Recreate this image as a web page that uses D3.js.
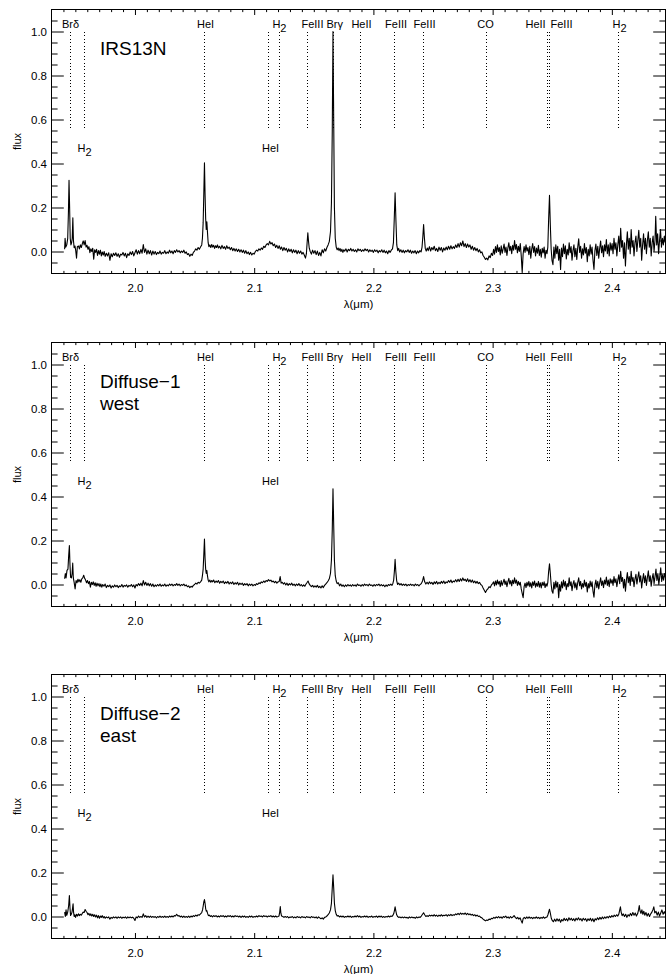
<!DOCTYPE html>
<html><head><meta charset="utf-8">
<script src="https://cdn.jsdelivr.net/npm/d3@7"></script>
<style>
body{margin:0;background:#fff}
svg{display:block}
text{font-family:"Liberation Sans",Arial,Helvetica,sans-serif;fill:#000}
</style>
</head><body>
<svg id="chart" width="667" height="974"></svg>
<script>
// ---------------- DATA ----------------
const X_DOMAIN = [1.93, 2.445];
const Y_DOMAIN = [-0.1, 1.1];
const X_MAJOR = [2.0, 2.1, 2.2, 2.3, 2.4];
const Y_MAJOR = [0.0, 0.2, 0.4, 0.6, 0.8, 1.0];

const PANEL_TITLES = [["IRS13N"], ["Diffuse\u22121", "west"], ["Diffuse\u22122", "east"]];

// marker lines (wavelength, micron)
const LINE_WL = [1.9451, 1.9571, 2.0580, 2.1118, 2.1207, 2.1447, 2.1660, 2.1886, 2.2171, 2.2412, 2.2943, 2.3452, 2.3469, 2.4050];
const TOP_LABEL_NAMES = ["Br\u03b4", "HeI", "H2", "FeIII", "Br\u03b3", "HeII", "FeIII", "FeIII", "CO", "HeII", "FeIII", "H2"];
const TOP_LABEL_WL = [1.9459, 2.0592, 2.1212, 2.1489, 2.1676, 2.1900, 2.2190, 2.2429, 2.2940, 2.3360, 2.3578, 2.4064];
const BOTTOM_LABEL_NAMES = ["H2", "HeI"];
const BOTTOM_LABEL_WL = [1.9577, 2.1137];

// spectra: [wavelength, flux]
const SPEC_IRS13N = [
[1.9410,0.010],[1.9414,0.060],[1.9420,0.020],[1.9428,0.030],[1.9436,0.060],[1.9442,0.180],[1.9447,0.324],[1.9452,0.200],[1.9457,0.060],[1.9463,0.030],[1.9469,0.040],[1.9474,0.060],[1.9479,0.153],[1.9484,0.050],[1.9490,0.017],[1.9497,0.025],[1.9503,0.005],[1.9510,-0.030],[1.9517,0.022],
[1.9526,0.025],[1.9534,0.012],[1.9542,0.030],[1.9550,0.018],[1.9558,0.035],[1.9566,0.048],[1.9574,0.030],[1.9582,0.050],[1.9590,0.020],[1.9598,0.028],[1.9606,0.010],[1.9614,0.022],[1.9622,-0.005],[1.9630,0.012],[1.9638,0.000],[1.9646,0.015],[1.9654,-0.035],[1.9662,0.008],[1.9670,-0.004],[1.9678,0.010],[1.9686,-0.018],[1.9694,0.004],[1.9702,-0.012],[1.9710,0.006],[1.9718,-0.020],[1.9726,-0.002],[1.9734,-0.016],[1.9742,0.000],[1.9750,-0.022],[1.9760,-0.008],[1.9770,-0.020],[1.9780,-0.006],[1.9790,-0.040],[1.9800,-0.010],[1.9810,-0.024],[1.9820,-0.008],[1.9830,-0.018],[1.9840,-0.006],[1.9850,-0.022],[1.9860,-0.010],[1.9870,-0.026],[1.9880,-0.012],[1.9890,-0.016],[1.9900,-0.004],[1.9910,-0.020],[1.9920,-0.008],[1.9930,-0.028],[1.9940,-0.010],[1.9950,-0.018],[1.9960,-0.002],[1.9970,-0.014],[1.9980,0.000],[1.9990,-0.020],
[2.0000,-0.006],[2.0010,0.008],[2.0020,-0.012],[2.0030,0.004],[2.0040,-0.010],[2.0050,0.010],[2.0060,-0.008],[2.0070,0.032],[2.0080,-0.004],[2.0090,0.012],[2.0100,-0.012],[2.0110,0.006],[2.0120,-0.010],[2.0130,0.004],[2.0140,-0.016],[2.0150,0.002],[2.0160,-0.012],[2.0170,0.000],[2.0180,-0.014],[2.0190,-0.004],[2.0200,-0.010],[2.0210,0.002],[2.0220,-0.012],[2.0230,-0.004],[2.0240,-0.008],[2.0250,0.004],[2.0260,-0.010],[2.0270,-0.002],[2.0280,-0.008],[2.0290,0.006],[2.0300,-0.006],[2.0310,0.002],[2.0320,-0.010],[2.0330,0.004],[2.0340,-0.004],[2.0350,0.008],[2.0360,-0.002],[2.0370,0.004],[2.0380,-0.006],[2.0390,0.002],[2.0400,-0.004],[2.0410,0.006],[2.0420,-0.008],[2.0430,-0.002],[2.0440,-0.014],[2.0450,-0.010],[2.0460,-0.022],[2.0470,-0.012],[2.0480,-0.018],[2.0490,-0.004],[2.0500,0.002],[2.0510,0.012],[2.0520,0.006],[2.0530,0.018],[2.0540,0.010],[2.0550,0.020],[2.0560,0.030],[2.0566,0.060],[2.0572,0.130],[2.0577,0.250],[2.0583,0.403],[2.0588,0.260],[2.0593,0.150],[2.0598,0.100],[2.0603,0.135],[2.0608,0.090],[2.0614,0.040],[2.0620,0.022],[2.0628,0.030],
[2.0636,0.018],[2.0644,0.032],[2.0652,0.020],[2.0660,0.028],[2.0668,0.014],[2.0676,0.026],[2.0684,0.018],[2.0692,0.030],[2.0700,0.016],[2.0710,0.024],[2.0720,0.012],[2.0730,0.028],[2.0740,0.014],[2.0750,0.022],[2.0760,0.010],[2.0770,0.026],[2.0780,0.014],[2.0790,0.020],[2.0800,0.008],[2.0810,0.018],[2.0820,0.004],[2.0830,0.014],[2.0840,0.002],[2.0850,0.012],[2.0860,0.000],[2.0870,0.010],[2.0880,-0.002],[2.0890,0.008],[2.0900,-0.004],[2.0910,0.006],[2.0920,-0.008],[2.0930,0.004],[2.0940,-0.010],[2.0950,-0.002],[2.0960,-0.014],[2.0970,-0.004],[2.0980,-0.016],[2.0990,-0.008],[2.1000,-0.012],[2.1010,0.000],[2.1020,0.006],[2.1030,0.002],[2.1040,0.012],[2.1050,0.006],[2.1060,0.016],[2.1070,0.010],[2.1080,0.024],[2.1090,0.018],[2.1100,0.030],[2.1110,0.036],[2.1120,0.030],[2.1130,0.046],[2.1140,0.034],[2.1150,0.040],[2.1160,0.026],[2.1170,0.034],[2.1180,0.018],[2.1190,0.028],[2.1200,0.014],[2.1210,0.026],[2.1220,0.010],[2.1230,0.020],[2.1240,0.004],[2.1250,0.018],[2.1260,0.006],[2.1270,0.014],[2.1280,-0.002],[2.1290,0.012],[2.1300,0.000],[2.1310,0.010],[2.1320,-0.006],[2.1330,0.008],[2.1340,-0.004],[2.1350,0.006],[2.1360,-0.010],[2.1370,0.004],[2.1380,-0.008],[2.1390,0.002],[2.1400,-0.012],[2.1410,-0.004],[2.1420,-0.016],[2.1430,-0.030],[2.1438,-0.010],[2.1444,0.040],[2.1450,0.085],[2.1456,0.045],[2.1462,0.015],[2.1470,0.000],[2.1480,-0.012],[2.1490,0.006],[2.1500,-0.008],[2.1510,0.004],[2.1520,-0.014],[2.1530,0.002],[2.1540,-0.018],[2.1550,-0.004],[2.1560,-0.020],[2.1570,0.008],[2.1580,-0.006],[2.1590,0.012],[2.1600,0.002],[2.1610,0.018],[2.1620,0.030],[2.1630,0.045],[2.1640,0.090],[2.1648,0.220],[2.1655,0.550],[2.1661,1.000],[2.1667,0.600],[2.1673,0.200],[2.1680,0.060],[2.1688,0.020],[2.1696,0.008],[2.1704,0.016],
[2.1712,0.004],[2.1720,0.014],[2.1728,0.000],[2.1736,0.010],[2.1744,-0.004],[2.1752,0.008],[2.1760,0.002],[2.1770,0.012],[2.1780,-0.002],[2.1790,0.010],[2.1800,0.004],[2.1810,0.014],[2.1820,0.002],[2.1830,0.010],[2.1840,0.000],[2.1850,0.008],[2.1860,-0.002],[2.1870,0.012],[2.1880,0.004],[2.1890,0.010],[2.1900,0.000],[2.1910,0.008],[2.1920,0.002],[2.1930,0.012],[2.1940,0.004],[2.1950,0.010],[2.1960,-0.002],[2.1970,0.008],[2.1980,0.000],[2.1990,0.006],[2.2000,-0.004],[2.2010,0.008],[2.2020,0.000],[2.2030,0.006],[2.2040,-0.006],[2.2050,0.004],[2.2060,-0.002],[2.2070,0.008],[2.2080,-0.004],[2.2090,0.006],[2.2100,-0.006],[2.2110,0.002],[2.2120,-0.010],[2.2130,0.004],[2.2140,-0.004],[2.2150,0.006],[2.2160,0.012],[2.2168,0.040],[2.2175,0.150],[2.2182,0.267],[2.2189,0.140],[2.2196,0.030],[2.2204,0.004],[2.2212,0.014],[2.2220,-0.002],[2.2230,0.008],[2.2240,-0.004],[2.2250,0.006],[2.2260,-0.006],[2.2270,0.004],[2.2280,-0.002],[2.2290,0.008],[2.2300,-0.004],[2.2310,0.006],[2.2320,-0.008],[2.2330,0.002],[2.2340,-0.006],[2.2350,0.004],[2.2360,-0.010],[2.2370,0.002],[2.2380,-0.006],[2.2390,0.004],[2.2400,-0.002],[2.2408,0.020],[2.2415,0.070],[2.2421,0.123],[2.2428,0.060],[2.2435,0.014],[2.2443,0.002],
[2.2452,0.016],[2.2460,0.004],[2.2470,0.022],[2.2480,0.002],[2.2490,0.018],[2.2500,0.008],[2.2510,0.024],[2.2520,0.004],[2.2530,0.014],[2.2540,0.000],[2.2550,0.020],[2.2560,0.006],[2.2570,0.018],[2.2580,-0.002],[2.2590,0.016],[2.2600,0.006],[2.2610,0.020],[2.2620,0.008],[2.2630,0.024],[2.2640,0.010],[2.2650,0.026],[2.2660,0.012],[2.2670,0.022],[2.2680,0.014],[2.2690,0.030],[2.2700,0.018],[2.2710,0.036],[2.2720,0.020],[2.2730,0.040],[2.2740,0.026],[2.2750,0.048],[2.2760,0.022],[2.2770,0.036],[2.2780,0.018],[2.2790,0.034],[2.2800,0.020],[2.2810,0.030],[2.2820,0.010],[2.2830,0.024],[2.2840,0.006],[2.2850,0.018],[2.2860,0.004],[2.2870,0.014],[2.2880,-0.002],[2.2890,0.008],[2.2900,-0.006],[2.2910,-0.002],[2.2920,-0.018],[2.2930,-0.026],[2.2940,-0.036],[2.2950,-0.030],[2.2960,-0.038],[2.2970,-0.020],[2.2980,-0.028],[2.2990,-0.008],[2.3000,-0.018],
[2.3008,0.010],[2.3016,-0.012],[2.3024,0.022],[2.3032,-0.004],[2.3040,0.030],[2.3048,0.000],[2.3056,0.018],[2.3064,-0.016],[2.3072,0.026],[2.3080,-0.008],[2.3088,0.012],[2.3096,0.034],[2.3104,-0.004],[2.3112,0.020],[2.3120,-0.018],[2.3128,0.016],[2.3136,0.040],[2.3144,0.004],[2.3152,0.024],[2.3160,-0.010],[2.3168,0.028],[2.3176,0.006],[2.3184,0.050],[2.3192,0.010],[2.3200,0.032],[2.3208,-0.006],[2.3216,0.024],[2.3224,0.000],[2.3232,0.036],[2.3240,-0.020],[2.3248,-0.095],[2.3256,-0.010],[2.3264,0.022],[2.3272,-0.004],[2.3280,0.030],[2.3288,0.002],[2.3296,0.018],[2.3304,-0.014],[2.3312,0.024],[2.3320,-0.030],[2.3328,0.012],[2.3336,0.036],[2.3344,-0.004],[2.3352,0.022],[2.3360,-0.020],[2.3368,0.016],[2.3376,-0.008],[2.3384,0.028],[2.3392,-0.018],[2.3400,0.010],[2.3408,-0.026],[2.3416,0.014],[2.3424,-0.006],[2.3432,0.020],[2.3440,-0.030],[2.3448,0.006],[2.3456,-0.010],[2.3463,0.020],[2.3470,0.150],[2.3477,0.255],[2.3484,0.120],[2.3491,0.010],[2.3498,-0.040],
[2.3506,-0.060],[2.3514,0.020],[2.3522,-0.030],[2.3530,0.030],[2.3538,-0.010],[2.3546,0.024],[2.3554,-0.040],[2.3562,0.010],[2.3570,-0.082],[2.3578,0.016],[2.3586,-0.024],[2.3594,0.034],[2.3602,-0.010],[2.3610,0.026],[2.3618,-0.034],[2.3626,0.010],[2.3634,-0.016],[2.3642,0.040],[2.3650,-0.006],[2.3658,0.022],[2.3666,-0.040],[2.3674,0.004],[2.3682,0.030],[2.3690,-0.024],[2.3698,0.014],[2.3706,-0.036],[2.3714,0.020],[2.3722,0.058],[2.3730,-0.004],[2.3738,0.024],[2.3746,-0.030],[2.3754,0.012],[2.3762,-0.016],[2.3770,0.036],[2.3778,-0.008],[2.3786,0.018],[2.3794,-0.046],[2.3802,0.010],[2.3810,-0.020],[2.3818,0.030],[2.3826,-0.012],[2.3834,0.020],[2.3842,-0.040],[2.3850,-0.082],[2.3858,0.004],[2.3866,0.034],[2.3874,-0.018],[2.3882,0.024],[2.3890,-0.030],[2.3898,0.014],[2.3906,0.048],[2.3914,-0.006],[2.3922,0.026],[2.3930,-0.024],[2.3938,0.030],[2.3946,0.002],[2.3954,0.054],[2.3962,-0.010],[2.3970,0.030],[2.3978,-0.020],[2.3986,0.040],[2.3994,0.006],
[2.4002,0.036],[2.4010,-0.010],[2.4018,0.060],[2.4026,0.010],[2.4034,0.040],[2.4042,-0.020],[2.4050,0.030],[2.4058,0.070],[2.4066,0.000],[2.4074,0.106],[2.4082,0.020],[2.4090,0.050],[2.4098,-0.030],[2.4106,0.040],[2.4114,-0.066],[2.4122,0.030],[2.4130,0.090],[2.4138,0.010],[2.4146,0.060],[2.4154,-0.010],[2.4162,0.100],[2.4170,0.020],[2.4178,0.050],[2.4186,-0.020],[2.4194,0.040],[2.4202,0.070],[2.4210,0.000],[2.4218,0.050],[2.4226,0.096],[2.4234,0.020],[2.4242,0.060],[2.4250,-0.040],[2.4258,0.030],[2.4266,0.080],[2.4274,0.010],[2.4282,0.060],[2.4290,-0.010],[2.4298,0.050],[2.4306,0.090],[2.4314,0.020],[2.4322,0.060],[2.4330,-0.020],[2.4338,0.040],[2.4346,0.070],[2.4354,0.000],[2.4362,0.050],[2.4368,0.160],[2.4376,0.030],[2.4384,0.080],[2.4392,-0.010],[2.4400,0.050],[2.4408,0.100],[2.4416,0.020],[2.4424,0.060],[2.4432,0.030],[2.4440,0.070],[2.4448,0.040]
];

const SPEC_DIFFUSE1 = [
[1.9410,0.026],[1.9416,0.050],[1.9422,0.030],[1.9430,0.064],[1.9438,0.070],[1.9444,0.130],[1.9450,0.177],[1.9455,0.090],[1.9460,0.033],[1.9467,0.030],[1.9473,0.050],[1.9478,0.097],[1.9483,0.030],[1.9490,0.010],[1.9498,-0.020],[1.9506,0.018],[1.9514,0.008],[1.9522,0.024],[1.9530,0.012],[1.9538,0.022],[1.9546,0.010],[1.9554,0.026],[1.9562,0.030],[1.9570,0.042],[1.9578,0.028],[1.9586,0.020],[1.9594,0.008],[1.9602,0.018],[1.9610,0.004],[1.9618,0.014],[1.9626,-0.012],[1.9634,0.010],[1.9642,0.000],[1.9650,0.012],[1.9658,-0.004],[1.9666,0.008],[1.9674,-0.008],[1.9682,0.006],[1.9690,-0.006],[1.9698,0.004],[1.9706,-0.010],[1.9714,0.002],[1.9722,-0.012],[1.9730,0.000],[1.9740,-0.008],[1.9750,0.002],[1.9760,-0.014],[1.9770,-0.004],[1.9780,-0.010],[1.9790,-0.002],[1.9800,-0.016],[1.9810,-0.006],[1.9820,-0.012],[1.9830,-0.002],[1.9840,-0.010],[1.9850,-0.004],[1.9860,-0.014],[1.9870,-0.006],[1.9880,-0.010],[1.9890,0.000],[1.9900,-0.012],[1.9910,-0.004],[1.9920,-0.008],[1.9930,-0.002],[1.9940,-0.012],[1.9950,-0.004],[1.9960,-0.008],[1.9970,0.000],[1.9980,-0.010],[1.9990,-0.002],
[2.0000,-0.016],[2.0010,0.000],[2.0020,-0.006],[2.0030,0.004],[2.0040,-0.004],[2.0050,0.006],[2.0060,-0.006],[2.0070,0.018],[2.0080,-0.002],[2.0090,0.010],[2.0100,-0.004],[2.0110,0.006],[2.0120,-0.006],[2.0130,0.004],[2.0140,-0.008],[2.0150,0.002],[2.0160,-0.010],[2.0170,-0.002],[2.0180,-0.008],[2.0190,0.000],[2.0200,-0.006],[2.0210,0.002],[2.0220,-0.008],[2.0230,-0.002],[2.0240,-0.006],[2.0250,0.002],[2.0260,-0.008],[2.0270,-0.002],[2.0280,-0.006],[2.0290,0.002],[2.0300,-0.004],[2.0310,0.002],[2.0320,-0.006],[2.0330,0.000],[2.0340,-0.004],[2.0350,0.004],[2.0360,-0.004],[2.0370,0.002],[2.0380,-0.006],[2.0390,0.000],[2.0400,-0.004],[2.0410,0.002],[2.0420,-0.006],[2.0430,-0.002],[2.0440,-0.010],[2.0450,-0.006],[2.0460,-0.014],[2.0470,-0.008],[2.0480,-0.012],[2.0490,-0.004],[2.0500,0.000],[2.0510,0.006],[2.0520,0.002],[2.0530,0.010],[2.0540,0.006],[2.0550,0.012],[2.0560,0.020],[2.0566,0.040],[2.0572,0.070],[2.0577,0.130],[2.0583,0.207],[2.0588,0.120],[2.0593,0.070],[2.0598,0.050],[2.0603,0.064],[2.0608,0.040],[2.0614,0.020],[2.0620,0.012],
[2.0628,0.020],[2.0636,0.010],[2.0644,0.018],[2.0652,0.012],[2.0660,0.020],[2.0670,0.008],[2.0680,0.016],[2.0690,0.010],[2.0700,0.018],[2.0710,0.006],[2.0720,0.014],[2.0730,0.008],[2.0740,0.016],[2.0750,0.004],[2.0760,0.012],[2.0770,0.006],[2.0780,0.014],[2.0790,0.002],[2.0800,0.010],[2.0810,0.004],[2.0820,0.012],[2.0830,0.000],[2.0840,0.008],[2.0850,0.002],[2.0860,0.010],[2.0870,-0.002],[2.0880,0.006],[2.0890,0.000],[2.0900,0.006],[2.0910,-0.004],[2.0920,0.004],[2.0930,-0.002],[2.0940,0.004],[2.0950,-0.006],[2.0960,0.002],[2.0970,-0.004],[2.0980,0.002],[2.0990,-0.006],[2.1000,0.000],[2.1010,-0.004],[2.1020,0.004],[2.1030,0.000],[2.1040,0.008],[2.1050,0.004],[2.1060,0.012],[2.1070,0.008],[2.1080,0.016],[2.1090,0.010],[2.1100,0.018],[2.1110,0.014],[2.1120,0.022],[2.1130,0.016],[2.1140,0.020],[2.1150,0.012],[2.1160,0.016],[2.1170,0.008],[2.1180,0.014],[2.1190,0.006],[2.1200,0.012],[2.1210,0.014],[2.1218,0.036],[2.1226,0.006],[2.1235,0.010],[2.1245,0.002],[2.1255,0.008],[2.1265,-0.002],[2.1275,0.006],[2.1285,-0.004],[2.1295,0.004],[2.1305,-0.002],[2.1315,0.006],[2.1325,-0.004],[2.1335,0.002],[2.1345,-0.006],[2.1355,0.002],[2.1365,-0.004],[2.1375,0.004],[2.1385,-0.006],[2.1395,0.000],[2.1405,-0.008],[2.1415,-0.002],[2.1425,-0.008],[2.1435,0.002],[2.1445,0.010],[2.1452,0.016],[2.1460,0.004],[2.1470,-0.004],[2.1480,-0.010],[2.1490,-0.004],[2.1500,-0.012],[2.1510,-0.006],[2.1520,-0.012],[2.1530,-0.004],[2.1540,-0.014],[2.1550,-0.008],[2.1560,-0.016],[2.1570,-0.006],[2.1580,-0.014],[2.1590,-0.004],[2.1600,0.002],[2.1610,0.008],[2.1620,0.016],[2.1630,0.026],[2.1640,0.050],[2.1648,0.110],[2.1655,0.250],[2.1661,0.435],[2.1667,0.270],[2.1673,0.110],[2.1680,0.040],[2.1688,0.016],[2.1696,0.004],[2.1706,0.008],
[2.1716,-0.006],[2.1726,0.002],[2.1736,-0.008],[2.1746,-0.002],[2.1756,-0.010],[2.1766,-0.002],[2.1776,-0.008],[2.1786,0.000],[2.1796,-0.006],[2.1806,-0.002],[2.1816,-0.008],[2.1826,0.000],[2.1836,-0.006],[2.1846,-0.002],[2.1856,-0.008],[2.1866,0.002],[2.1876,-0.004],[2.1886,-0.002],[2.1896,-0.008],[2.1906,0.000],[2.1916,-0.006],[2.1926,0.002],[2.1936,-0.004],[2.1946,0.000],[2.1956,-0.006],[2.1966,0.002],[2.1976,-0.004],[2.1986,-0.002],[2.1996,-0.008],[2.2006,0.000],[2.2016,-0.006],[2.2026,0.000],[2.2036,-0.004],[2.2046,0.002],[2.2056,-0.006],[2.2066,0.000],[2.2076,-0.006],[2.2086,-0.002],[2.2096,-0.010],[2.2106,-0.002],[2.2116,-0.008],[2.2126,0.000],[2.2136,-0.004],[2.2146,0.002],[2.2156,-0.004],[2.2164,0.006],[2.2170,0.020],[2.2176,0.060],[2.2182,0.114],[2.2188,0.060],[2.2195,0.018],[2.2203,0.000],[2.2212,0.006],[2.2222,-0.002],[2.2232,0.004],[2.2242,-0.004],[2.2252,0.002],[2.2262,-0.004],[2.2272,0.002],[2.2282,-0.006],[2.2292,0.000],[2.2302,-0.004],[2.2312,0.002],[2.2322,-0.004],[2.2332,0.000],[2.2342,-0.006],[2.2352,0.002],[2.2362,-0.004],[2.2372,0.000],[2.2382,-0.006],[2.2392,0.000],[2.2402,0.004],[2.2412,0.016],[2.2421,0.036],[2.2430,0.012],[2.2440,0.002],
[2.2450,0.010],[2.2460,0.002],[2.2470,0.012],[2.2480,0.004],[2.2490,0.010],[2.2500,0.000],[2.2510,0.012],[2.2520,0.004],[2.2530,0.014],[2.2540,0.002],[2.2550,0.010],[2.2560,0.004],[2.2570,0.014],[2.2580,0.006],[2.2590,0.016],[2.2600,0.004],[2.2610,0.012],[2.2620,0.008],[2.2630,0.018],[2.2640,0.010],[2.2650,0.020],[2.2660,0.008],[2.2670,0.016],[2.2680,0.012],[2.2690,0.022],[2.2700,0.012],[2.2710,0.024],[2.2720,0.014],[2.2730,0.026],[2.2740,0.016],[2.2750,0.030],[2.2760,0.018],[2.2770,0.024],[2.2780,0.014],[2.2790,0.026],[2.2800,0.012],[2.2810,0.022],[2.2820,0.010],[2.2830,0.020],[2.2840,0.008],[2.2850,0.016],[2.2860,0.006],[2.2870,0.014],[2.2880,0.004],[2.2890,0.010],[2.2900,0.000],[2.2910,-0.004],[2.2920,-0.016],[2.2930,-0.026],[2.2940,-0.036],[2.2950,-0.026],[2.2960,-0.020],[2.2970,-0.010],[2.2980,-0.014],[2.2990,-0.002],[2.3000,0.004],
[2.3008,0.012],[2.3016,-0.006],[2.3024,0.016],[2.3032,-0.002],[2.3040,0.020],[2.3048,0.002],[2.3056,0.014],[2.3064,-0.010],[2.3072,0.018],[2.3080,-0.004],[2.3088,0.010],[2.3096,0.024],[2.3104,0.000],[2.3112,0.016],[2.3120,-0.010],[2.3128,0.012],[2.3136,0.028],[2.3144,0.002],[2.3152,0.018],[2.3160,-0.006],[2.3168,0.020],[2.3176,0.004],[2.3184,0.030],[2.3192,0.006],[2.3200,0.020],[2.3208,-0.004],[2.3216,0.014],[2.3224,-0.002],[2.3232,0.010],[2.3240,-0.020],[2.3248,-0.040],[2.3256,-0.060],[2.3264,-0.010],[2.3272,0.006],[2.3280,-0.014],[2.3288,0.010],[2.3296,-0.006],[2.3304,0.014],[2.3312,-0.010],[2.3320,0.008],[2.3328,-0.016],[2.3336,0.012],[2.3344,-0.004],[2.3352,0.016],[2.3360,-0.012],[2.3368,0.006],[2.3376,-0.008],[2.3384,0.014],[2.3392,-0.012],[2.3400,0.008],[2.3408,-0.016],[2.3416,0.010],[2.3424,-0.004],[2.3432,0.012],[2.3440,-0.014],[2.3448,0.004],[2.3456,-0.008],[2.3463,0.010],[2.3470,0.060],[2.3477,0.094],[2.3484,0.050],[2.3491,0.000],[2.3498,-0.030],
[2.3506,-0.040],[2.3514,0.010],[2.3522,-0.020],[2.3530,0.016],[2.3538,-0.012],[2.3546,0.010],[2.3554,-0.060],[2.3562,0.000],[2.3570,-0.030],[2.3578,0.012],[2.3586,-0.016],[2.3594,0.020],[2.3602,-0.008],[2.3610,0.014],[2.3618,-0.024],[2.3626,0.004],[2.3634,-0.010],[2.3642,0.030],[2.3650,-0.006],[2.3658,0.012],[2.3666,-0.028],[2.3674,0.002],[2.3682,0.018],[2.3690,-0.016],[2.3698,0.008],[2.3706,-0.024],[2.3714,0.010],[2.3722,0.030],[2.3730,-0.006],[2.3738,0.014],[2.3746,-0.020],[2.3754,0.004],[2.3762,-0.012],[2.3770,0.020],[2.3778,-0.008],[2.3786,0.010],[2.3794,-0.034],[2.3802,0.004],[2.3810,-0.016],[2.3818,0.016],[2.3826,-0.010],[2.3834,0.012],[2.3842,-0.030],[2.3850,-0.058],[2.3858,-0.002],[2.3866,0.020],[2.3874,-0.014],[2.3882,0.014],[2.3890,-0.020],[2.3898,0.008],[2.3906,0.030],[2.3914,-0.004],[2.3922,0.016],[2.3930,-0.014],[2.3938,0.020],[2.3946,0.002],[2.3954,0.034],[2.3962,-0.004],[2.3970,0.020],[2.3978,-0.010],[2.3986,0.026],[2.3994,0.006],
[2.4002,0.022],[2.4010,-0.004],[2.4018,0.036],[2.4026,0.008],[2.4034,0.026],[2.4042,-0.010],[2.4050,0.020],[2.4058,0.044],[2.4066,0.004],[2.4074,0.060],[2.4082,0.014],[2.4090,0.032],[2.4098,-0.016],[2.4106,0.024],[2.4114,-0.030],[2.4122,0.020],[2.4130,0.054],[2.4138,0.008],[2.4146,0.036],[2.4154,-0.004],[2.4162,0.060],[2.4170,0.014],[2.4178,0.032],[2.4186,-0.010],[2.4194,0.026],[2.4202,0.046],[2.4210,0.002],[2.4218,0.032],[2.4226,0.058],[2.4234,0.012],[2.4242,0.040],[2.4250,-0.016],[2.4258,0.022],[2.4266,0.050],[2.4274,0.008],[2.4282,0.040],[2.4290,-0.004],[2.4298,0.032],[2.4306,0.062],[2.4314,0.014],[2.4322,0.040],[2.4330,-0.008],[2.4338,0.028],[2.4346,0.050],[2.4354,0.004],[2.4362,0.036],[2.4370,0.070],[2.4378,0.018],[2.4386,0.050],[2.4394,0.000],[2.4402,0.036],[2.4410,0.076],[2.4418,0.014],[2.4426,0.044],[2.4434,0.020],[2.4442,0.050],[2.4450,0.030]
];

const SPEC_DIFFUSE2 = [
[1.9410,0.020],[1.9416,0.000],[1.9422,0.030],[1.9428,0.005],[1.9436,0.020],[1.9444,0.050],[1.9450,0.095],[1.9455,0.040],[1.9460,0.005],[1.9466,0.010],[1.9472,0.020],[1.9477,0.040],[1.9481,0.058],[1.9485,0.020],[1.9490,0.000],[1.9496,0.008],[1.9502,-0.004],[1.9510,0.010],[1.9518,0.002],[1.9526,0.012],[1.9534,0.004],[1.9542,0.010],[1.9550,0.006],[1.9558,0.014],[1.9566,0.020],[1.9574,0.018],[1.9582,0.032],[1.9590,0.024],[1.9598,0.018],[1.9606,0.008],[1.9614,0.014],[1.9622,0.004],[1.9630,0.012],[1.9638,0.002],[1.9646,0.010],[1.9654,0.000],[1.9662,0.008],[1.9670,-0.002],[1.9678,0.006],[1.9686,-0.006],[1.9694,0.004],[1.9702,-0.008],[1.9710,0.002],[1.9718,-0.004],[1.9726,0.004],[1.9734,-0.006],[1.9742,0.000],[1.9750,-0.008],[1.9760,-0.002],[1.9770,-0.006],[1.9780,-0.002],[1.9790,-0.012],[1.9800,-0.004],[1.9810,-0.008],[1.9820,-0.002],[1.9830,-0.006],[1.9840,-0.002],[1.9850,-0.008],[1.9860,-0.002],[1.9870,-0.006],[1.9880,-0.002],[1.9890,-0.008],[1.9900,-0.003],[1.9910,-0.006],[1.9920,-0.002],[1.9930,-0.008],[1.9940,-0.002],[1.9950,-0.006],[1.9960,-0.002],[1.9970,-0.006],[1.9980,-0.003],[1.9990,-0.008],
[2.0000,-0.018],[2.0010,-0.002],[2.0020,-0.006],[2.0030,0.002],[2.0040,-0.004],[2.0050,0.000],[2.0060,-0.004],[2.0070,0.012],[2.0080,-0.002],[2.0090,0.004],[2.0100,-0.004],[2.0110,0.002],[2.0120,-0.004],[2.0130,0.002],[2.0140,-0.004],[2.0150,0.000],[2.0160,-0.004],[2.0170,0.000],[2.0180,-0.006],[2.0190,0.000],[2.0200,-0.004],[2.0210,0.002],[2.0220,-0.004],[2.0230,0.000],[2.0240,-0.004],[2.0250,0.002],[2.0260,-0.004],[2.0270,0.000],[2.0280,-0.004],[2.0290,0.002],[2.0300,-0.002],[2.0310,0.002],[2.0320,-0.002],[2.0330,0.004],[2.0340,0.002],[2.0350,0.010],[2.0360,0.002],[2.0370,0.004],[2.0380,-0.002],[2.0390,0.002],[2.0400,-0.004],[2.0410,0.002],[2.0420,-0.004],[2.0430,0.000],[2.0440,-0.004],[2.0450,0.002],[2.0460,-0.004],[2.0470,0.002],[2.0480,-0.002],[2.0490,0.004],[2.0500,0.000],[2.0510,0.006],[2.0520,0.002],[2.0530,0.008],[2.0540,0.006],[2.0550,0.012],[2.0560,0.018],[2.0567,0.030],[2.0573,0.050],[2.0578,0.068],[2.0583,0.077],[2.0588,0.060],[2.0593,0.036],[2.0598,0.024],[2.0603,0.027],[2.0609,0.014],[2.0616,0.004],
[2.0624,0.006],[2.0632,0.000],[2.0640,0.004],[2.0650,-0.002],[2.0660,0.004],[2.0670,0.000],[2.0680,0.004],[2.0690,-0.002],[2.0700,0.002],[2.0710,-0.002],[2.0720,0.004],[2.0730,0.000],[2.0740,0.004],[2.0750,-0.002],[2.0760,0.002],[2.0770,-0.002],[2.0780,0.004],[2.0790,0.000],[2.0800,0.004],[2.0810,-0.002],[2.0820,0.002],[2.0830,-0.002],[2.0840,0.004],[2.0850,0.000],[2.0860,0.002],[2.0870,-0.002],[2.0880,0.002],[2.0890,-0.004],[2.0900,0.002],[2.0910,-0.002],[2.0920,0.002],[2.0930,-0.004],[2.0940,0.000],[2.0950,-0.004],[2.0960,0.002],[2.0970,-0.002],[2.0980,0.002],[2.0990,-0.004],[2.1000,0.000],[2.1010,-0.002],[2.1020,0.002],[2.1030,-0.002],[2.1040,0.004],[2.1050,0.000],[2.1060,0.002],[2.1070,-0.002],[2.1080,0.004],[2.1090,0.000],[2.1100,0.002],[2.1110,-0.002],[2.1120,0.002],[2.1130,0.000],[2.1140,0.004],[2.1150,-0.002],[2.1160,0.002],[2.1170,-0.002],[2.1180,0.002],[2.1190,-0.002],[2.1200,0.000],[2.1208,0.002],[2.1214,0.020],[2.1219,0.045],[2.1224,0.015],[2.1230,0.002],[2.1240,0.000],[2.1250,-0.004],[2.1260,0.000],[2.1270,-0.004],[2.1280,0.000],[2.1290,-0.006],[2.1300,-0.002],[2.1310,-0.004],[2.1320,0.000],[2.1330,-0.006],[2.1340,-0.002],[2.1350,-0.006],[2.1360,0.000],[2.1370,-0.004],[2.1380,-0.002],[2.1390,-0.006],[2.1400,0.000],[2.1410,-0.004],[2.1420,-0.002],[2.1430,-0.006],[2.1440,0.000],[2.1450,-0.004],[2.1460,-0.002],[2.1470,-0.006],[2.1480,0.000],[2.1490,-0.004],[2.1500,-0.002],[2.1510,-0.006],[2.1520,-0.002],[2.1530,-0.008],[2.1540,-0.002],[2.1550,-0.006],[2.1560,-0.010],[2.1570,-0.006],[2.1580,-0.012],[2.1590,-0.004],[2.1600,-0.002],[2.1610,0.002],[2.1620,0.008],[2.1630,0.016],[2.1640,0.030],[2.1648,0.060],[2.1655,0.130],[2.1661,0.189],[2.1667,0.130],[2.1673,0.060],[2.1680,0.027],[2.1688,0.010],[2.1696,0.002],[2.1706,0.004],
[2.1716,-0.002],[2.1726,0.002],[2.1736,-0.002],[2.1746,0.002],[2.1756,-0.004],[2.1766,0.000],[2.1776,-0.002],[2.1786,0.002],[2.1796,-0.002],[2.1806,0.002],[2.1816,-0.004],[2.1826,0.000],[2.1836,-0.002],[2.1846,0.002],[2.1856,-0.002],[2.1866,0.004],[2.1876,-0.002],[2.1886,0.002],[2.1896,-0.004],[2.1906,0.000],[2.1916,-0.002],[2.1926,0.002],[2.1936,-0.002],[2.1946,0.002],[2.1956,-0.004],[2.1966,0.000],[2.1976,-0.002],[2.1986,0.002],[2.1996,-0.004],[2.2006,0.000],[2.2016,-0.002],[2.2026,0.002],[2.2036,-0.004],[2.2046,0.002],[2.2056,-0.002],[2.2066,0.002],[2.2076,-0.004],[2.2086,0.000],[2.2096,-0.004],[2.2106,0.000],[2.2116,-0.002],[2.2126,0.002],[2.2136,-0.002],[2.2146,0.002],[2.2156,0.000],[2.2164,0.006],[2.2170,0.012],[2.2176,0.026],[2.2182,0.044],[2.2188,0.026],[2.2195,0.008],[2.2203,0.000],[2.2212,-0.004],[2.2222,-0.002],[2.2232,-0.006],[2.2242,-0.002],[2.2252,-0.006],[2.2262,-0.002],[2.2272,-0.006],[2.2282,-0.004],[2.2292,-0.008],[2.2302,-0.002],[2.2312,-0.006],[2.2322,-0.002],[2.2332,-0.006],[2.2342,-0.004],[2.2352,-0.008],[2.2362,-0.002],[2.2372,-0.006],[2.2382,-0.002],[2.2392,-0.004],[2.2402,0.002],[2.2412,0.010],[2.2421,0.017],[2.2430,0.008],[2.2440,0.000],
[2.2450,0.004],[2.2460,0.000],[2.2470,0.006],[2.2480,0.002],[2.2490,0.006],[2.2500,0.002],[2.2510,0.008],[2.2520,0.002],[2.2530,0.006],[2.2540,0.000],[2.2550,0.006],[2.2560,0.002],[2.2570,0.008],[2.2580,0.002],[2.2590,0.006],[2.2600,0.004],[2.2610,0.008],[2.2620,0.002],[2.2630,0.008],[2.2640,0.004],[2.2650,0.010],[2.2660,0.004],[2.2670,0.008],[2.2680,0.006],[2.2690,0.012],[2.2700,0.008],[2.2710,0.014],[2.2720,0.008],[2.2730,0.016],[2.2740,0.010],[2.2750,0.014],[2.2760,0.010],[2.2770,0.016],[2.2780,0.008],[2.2790,0.014],[2.2800,0.008],[2.2810,0.012],[2.2820,0.006],[2.2830,0.010],[2.2840,0.004],[2.2850,0.008],[2.2860,0.002],[2.2870,0.006],[2.2880,0.000],[2.2890,0.002],[2.2900,-0.004],[2.2910,-0.006],[2.2920,-0.012],[2.2930,-0.016],[2.2940,-0.020],[2.2950,-0.016],[2.2960,-0.018],[2.2970,-0.012],[2.2980,-0.014],[2.2990,-0.008],[2.3000,-0.010],
[2.3010,-0.004],[2.3020,-0.008],[2.3030,-0.002],[2.3040,-0.006],[2.3050,0.000],[2.3060,-0.006],[2.3070,-0.002],[2.3080,-0.008],[2.3090,0.000],[2.3100,-0.004],[2.3110,0.002],[2.3120,-0.006],[2.3130,-0.002],[2.3140,-0.008],[2.3150,0.000],[2.3160,-0.006],[2.3170,-0.002],[2.3180,0.004],[2.3190,-0.004],[2.3200,-0.010],[2.3210,-0.004],[2.3220,-0.012],[2.3230,-0.006],[2.3240,-0.020],[2.3248,-0.030],[2.3256,-0.010],[2.3266,-0.004],[2.3276,-0.010],[2.3286,-0.002],[2.3296,-0.008],[2.3306,-0.002],[2.3316,-0.008],[2.3326,-0.004],[2.3336,-0.010],[2.3346,-0.004],[2.3356,-0.008],[2.3366,-0.002],[2.3376,-0.008],[2.3386,-0.004],[2.3396,-0.010],[2.3406,-0.004],[2.3416,-0.008],[2.3426,-0.002],[2.3436,-0.008],[2.3446,-0.004],[2.3456,-0.002],[2.3464,0.008],[2.3471,0.022],[2.3477,0.033],[2.3484,0.015],[2.3492,-0.008],[2.3500,-0.018],
[2.3510,-0.024],[2.3520,-0.012],[2.3530,-0.022],[2.3540,-0.010],[2.3550,-0.020],[2.3560,-0.012],[2.3570,-0.026],[2.3580,-0.014],[2.3590,-0.020],[2.3600,-0.008],[2.3610,-0.018],[2.3620,-0.010],[2.3630,-0.020],[2.3640,-0.006],[2.3650,-0.016],[2.3660,-0.008],[2.3670,-0.018],[2.3680,-0.010],[2.3690,-0.020],[2.3700,-0.008],[2.3710,-0.016],[2.3720,-0.006],[2.3730,-0.016],[2.3740,-0.010],[2.3750,-0.020],[2.3760,-0.008],[2.3770,-0.016],[2.3780,-0.010],[2.3790,-0.022],[2.3800,-0.010],[2.3810,-0.018],[2.3820,-0.008],[2.3830,-0.020],[2.3840,-0.010],[2.3850,-0.024],[2.3860,-0.010],[2.3870,-0.016],[2.3880,-0.006],[2.3890,-0.014],[2.3900,-0.004],[2.3910,-0.012],[2.3920,-0.002],[2.3930,-0.010],[2.3940,-0.002],[2.3950,-0.008],[2.3960,0.000],[2.3970,-0.006],[2.3980,0.002],[2.3990,-0.004],[2.4000,0.004],
[2.4010,-0.002],[2.4020,0.006],[2.4030,0.000],[2.4040,0.008],[2.4050,0.002],[2.4058,0.010],[2.4066,0.030],[2.4072,0.044],[2.4078,0.020],[2.4086,0.004],[2.4096,0.012],[2.4106,0.000],[2.4116,0.010],[2.4126,-0.004],[2.4136,0.008],[2.4146,0.002],[2.4156,0.014],[2.4166,0.004],[2.4176,0.018],[2.4186,0.006],[2.4196,0.016],[2.4206,0.002],[2.4216,0.012],[2.4224,0.030],[2.4230,0.050],[2.4236,0.026],[2.4244,0.014],[2.4252,0.030],[2.4260,0.010],[2.4268,0.024],[2.4276,0.006],[2.4286,0.018],[2.4296,0.002],[2.4306,0.014],[2.4316,0.000],[2.4326,0.012],[2.4336,0.020],[2.4344,0.030],[2.4352,0.044],[2.4360,0.016],[2.4370,0.024],[2.4380,0.006],[2.4390,0.020],[2.4400,0.002],[2.4410,0.016],[2.4420,0.030],[2.4430,0.010],[2.4440,0.022],[2.4448,0.012]
];

const SPECTRA = [SPEC_IRS13N, SPEC_DIFFUSE1, SPEC_DIFFUSE2];

// ---------------- LAYOUT ----------------
const PANEL_TOPS = [9, 342, 674];
const PH = 264;
const LEFT = 51.5, RIGHT = 665.5;
const FONT = '"Liberation Sans",Arial,Helvetica,sans-serif';

const svg = d3.select("#chart");
const x = d3.scaleLinear().domain(X_DOMAIN).range([LEFT, RIGHT]);

const xMinor = d3.range(194, 245).map(v => v / 100).filter(v => !X_MAJOR.some(m => Math.abs(m - v) < 1e-9));
const yMinor = d3.range(-1, 22).map(v => v * 0.05).filter(v => !Y_MAJOR.some(m => Math.abs(m - v) < 1e-9));

function cleanAxis(g) {
  g.select(".domain").remove();
  g.selectAll(".tick line").attr("stroke", "#000").attr("stroke-width", 1);
  g.selectAll("text").attr("font-family", FONT).attr("font-size", 11.5).attr("fill", "#000");
  g.attr("font-family", null).attr("font-size", null);
}

function addLabel(g, name, xpos, ypos) {
  const t = g.append("text").attr("x", xpos).attr("y", ypos).attr("text-anchor", "middle")
    .attr("font-size", 11);
  if (name === "H2") {
    t.append("tspan").text("H");
    t.append("tspan").attr("dy", 4).attr("font-size", 11).text("2");
  } else {
    t.text(name);
  }
}

PANEL_TOPS.forEach((top, i) => {
  const y0 = top + 0.5, y1 = top + 0.5 + PH;
  const y = d3.scaleLinear().domain(Y_DOMAIN).range([y1, y0]);
  const g = svg.append("g");

  // clip
  const cid = "clip" + i;
  g.append("clipPath").attr("id", cid).append("rect")
    .attr("x", LEFT).attr("y", y0).attr("width", RIGHT - LEFT).attr("height", PH);

  // spectrum
  const line = d3.line().x(d => x(d[0])).y(d => y(d[1]));
  g.append("path").datum(SPECTRA[i]).attr("clip-path", `url(#${cid})`)
    .attr("d", line).attr("fill", "none").attr("stroke", "#000").attr("stroke-width", 1.1)
    .attr("stroke-linejoin", "round");

  // marker lines (dotted)
  g.selectAll(".marker").data(LINE_WL).enter().append("line")
    .attr("x1", d => Math.round(x(d)) + 0.5).attr("x2", d => Math.round(x(d)) + 0.5)
    .attr("y1", Math.round(y(1.0))).attr("y2", Math.round(y(0.55)))
    .attr("stroke", "#000").attr("stroke-width", 1).attr("stroke-dasharray", "1,2.4")
    .attr("shape-rendering", "crispEdges");

  // labels
  TOP_LABEL_NAMES.forEach((n, k) => addLabel(g, n, x(TOP_LABEL_WL[k]), y(1.0) - 4));
  BOTTOM_LABEL_NAMES.forEach((n, k) => addLabel(g, n, x(BOTTOM_LABEL_WL[k]), y(0.55) + 21));

  // frame
  g.append("rect").attr("x", LEFT).attr("y", y0).attr("width", RIGHT - LEFT).attr("height", PH)
    .attr("fill", "none").attr("stroke", "#000").attr("stroke-width", 1);

  // axes
  g.append("g").attr("transform", `translate(0,${y1})`)
    .call(d3.axisBottom(x).tickValues(X_MAJOR).tickFormat(d3.format(".1f")).tickSize(-5.5).tickPadding(10)).call(cleanAxis);
  g.append("g").attr("transform", `translate(0,${y1})`)
    .call(d3.axisBottom(x).tickValues(xMinor).tickFormat("").tickSize(-2.6)).call(cleanAxis);
  g.append("g").attr("transform", `translate(0,${y0})`)
    .call(d3.axisTop(x).tickValues(X_MAJOR).tickFormat("").tickSize(-5.5)).call(cleanAxis);
  g.append("g").attr("transform", `translate(0,${y0})`)
    .call(d3.axisTop(x).tickValues(xMinor).tickFormat("").tickSize(-2.6)).call(cleanAxis);
  g.append("g").attr("transform", `translate(${LEFT},0)`)
    .call(d3.axisLeft(y).tickValues(Y_MAJOR).tickFormat(d3.format(".1f")).tickSize(-12.3).tickPadding(4.5)).call(cleanAxis);
  g.append("g").attr("transform", `translate(${LEFT},0)`)
    .call(d3.axisLeft(y).tickValues(yMinor).tickFormat("").tickSize(-6.1)).call(cleanAxis);
  g.append("g").attr("transform", `translate(${RIGHT},0)`)
    .call(d3.axisRight(y).tickValues(Y_MAJOR).tickFormat("").tickSize(-12.3)).call(cleanAxis);
  g.append("g").attr("transform", `translate(${RIGHT},0)`)
    .call(d3.axisRight(y).tickValues(yMinor).tickFormat("").tickSize(-6.1)).call(cleanAxis);

  // axis titles
  g.append("text").attr("transform", `translate(21,${(y0 + y1) / 2}) rotate(-90)`)
    .attr("text-anchor", "middle").attr("font-size", 11).text("flux");
  g.append("text").attr("x", (LEFT + RIGHT) / 2).attr("y", y1 + 34)
    .attr("text-anchor", "middle").attr("font-size", 11.5).text("\u03bb(\u03bcm)");

  // panel title
  PANEL_TITLES[i].forEach((t, k) => {
    g.append("text").attr("x", 100).attr("y", y0 + 45 + k * 22.5)
      .attr("font-size", 19).text(t);
  });
});
</script>
</body></html>
